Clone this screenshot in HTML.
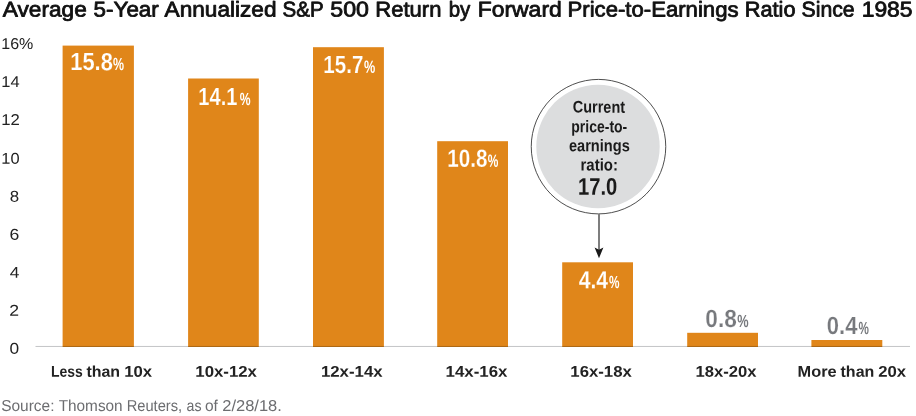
<!DOCTYPE html>
<html><head><meta charset="utf-8"><title>Chart</title>
<style>html,body{margin:0;padding:0;background:#fff;}svg{display:block;}text{font-family:"Liberation Sans",sans-serif;text-rendering:geometricPrecision;}</style></head>
<body>
<svg width="916" height="416" viewBox="0 0 916 416" style="will-change:transform">
<rect x="0" y="0" width="916" height="416" fill="#fff"/>
<g opacity="0.999">
<rect x="62.6" y="45.6" width="71.30" height="301.40" fill="#E0861A"/>
<rect x="188.1" y="78.5" width="70.70" height="268.50" fill="#E0861A"/>
<rect x="313" y="47.2" width="70.90" height="299.80" fill="#E0861A"/>
<rect x="437.2" y="141.2" width="70.80" height="205.80" fill="#E0861A"/>
<rect x="562.2" y="262.3" width="70.80" height="84.70" fill="#E0861A"/>
<rect x="687.2" y="332.8" width="70.80" height="14.20" fill="#E0861A"/>
<rect x="811.4" y="340.0" width="70.90" height="7.00" fill="#E0861A"/>
<rect x="35.5" y="345.95" width="874.5" height="1.05" fill="#c6c7c9" style="mix-blend-mode:multiply"/>
<circle cx="598.5" cy="146.65" r="67.25" fill="#fff" stroke="#3a3a3a" stroke-width="0.9"/>
<circle cx="598.0" cy="146.5" r="61.7" fill="#DCDDDE"/>
<line x1="599" y1="214" x2="599" y2="250" stroke="#7e7e7e" stroke-width="2"/>
<path d="M599 258.2 L594.6 247.4 L599 249.8 L603.4 247.4 Z" fill="#1a1a1a"/>
<text transform="translate(2.77 16.50) skewY(0.05) scale(1.0608 1)" font-size="21.37" font-weight="normal" fill="#111" stroke="#111" stroke-width="0.8" stroke-linejoin="round">Average</text>
<text transform="translate(93.58 16.50) skewY(0.05) scale(1.0494 1)" font-size="21.37" font-weight="normal" fill="#111" stroke="#111" stroke-width="0.8" stroke-linejoin="round">5-Year</text>
<text transform="translate(164.56 16.50) skewY(0.05) scale(1.0590 1)" font-size="21.37" font-weight="normal" fill="#111" stroke="#111" stroke-width="0.8" stroke-linejoin="round">Annualized</text>
<text transform="translate(282.62 16.50) skewY(0.05) scale(0.9614 1)" font-size="21.37" font-weight="normal" fill="#111" stroke="#111" stroke-width="0.8" stroke-linejoin="round">S&amp;P</text>
<text transform="translate(330.26 16.50) skewY(0.05) scale(1.0849 1)" font-size="21.37" font-weight="normal" fill="#111" stroke="#111" stroke-width="0.8" stroke-linejoin="round">500</text>
<text transform="translate(375.31 16.50) skewY(0.05) scale(1.0306 1)" font-size="21.37" font-weight="normal" fill="#111" stroke="#111" stroke-width="0.8" stroke-linejoin="round">Return</text>
<text transform="translate(448.64 16.50) skewY(0.05) scale(0.9591 1)" font-size="21.37" font-weight="normal" fill="#111" stroke="#111" stroke-width="0.8" stroke-linejoin="round">by</text>
<text transform="translate(477.66 16.50) skewY(0.05) scale(1.0737 1)" font-size="21.37" font-weight="normal" fill="#111" stroke="#111" stroke-width="0.8" stroke-linejoin="round">Forward</text>
<text transform="translate(567.50 16.50) skewY(0.05) scale(1.0367 1)" font-size="21.37" font-weight="normal" fill="#111" stroke="#111" stroke-width="0.8" stroke-linejoin="round">Price-to-Earnings</text>
<text transform="translate(744.73 16.50) skewY(0.05) scale(1.0197 1)" font-size="21.37" font-weight="normal" fill="#111" stroke="#111" stroke-width="0.8" stroke-linejoin="round">Ratio</text>
<text transform="translate(801.50 16.50) skewY(0.05) scale(0.9943 1)" font-size="21.37" font-weight="normal" fill="#111" stroke="#111" stroke-width="0.8" stroke-linejoin="round">Since</text>
<text transform="translate(861.66 16.50) skewY(0.05) scale(1.0710 1)" font-size="21.37" font-weight="normal" fill="#111" stroke="#111" stroke-width="0.8" stroke-linejoin="round">1985</text>
<text transform="translate(1.32 49.00) skewY(0.05) scale(1.0203 1)" font-size="15.70" font-weight="normal" fill="#222">16%</text>
<text transform="translate(1.29 87.00) skewY(0.05) scale(1.0476 1)" font-size="15.70" font-weight="normal" fill="#222">14</text>
<text transform="translate(1.27 125.00) skewY(0.05) scale(1.0645 1)" font-size="15.70" font-weight="normal" fill="#222">12</text>
<text transform="translate(1.29 163.80) skewY(0.05) scale(1.0476 1)" font-size="15.70" font-weight="normal" fill="#222">10</text>
<text transform="translate(9.69 201.80) skewY(0.05) scale(1.0759 1)" font-size="15.70" font-weight="normal" fill="#222">8</text>
<text transform="translate(9.51 239.80) skewY(0.05) scale(1.1241 1)" font-size="15.70" font-weight="normal" fill="#222">6</text>
<text transform="translate(9.87 277.80) skewY(0.05) scale(1.1062 1)" font-size="15.70" font-weight="normal" fill="#222">4</text>
<text transform="translate(9.31 315.80) skewY(0.05) scale(1.1241 1)" font-size="15.70" font-weight="normal" fill="#222">2</text>
<text transform="translate(9.60 353.75) skewY(0.05) scale(1.1032 1)" font-size="15.70" font-weight="normal" fill="#222">0</text>
<text transform="translate(50.90 376.80) skewY(0.05) scale(0.8978 1)" font-size="15.55" font-weight="bold" fill="#222">Less</text>
<text transform="translate(86.44 376.80) skewY(0.05) scale(1.0254 1)" font-size="15.55" font-weight="bold" fill="#222">than</text>
<text transform="translate(124.13 376.80) skewY(0.05) scale(1.0747 1)" font-size="15.55" font-weight="bold" fill="#222">10x</text>
<text transform="translate(195.32 376.80) skewY(0.05) scale(1.0804 1)" font-size="15.55" font-weight="bold" fill="#222">10x-12x</text>
<text transform="translate(320.92 376.80) skewY(0.05) scale(1.0804 1)" font-size="15.55" font-weight="bold" fill="#222">12x-14x</text>
<text transform="translate(445.62 376.80) skewY(0.05) scale(1.0839 1)" font-size="15.55" font-weight="bold" fill="#222">14x-16x</text>
<text transform="translate(570.32 376.80) skewY(0.05) scale(1.0768 1)" font-size="15.55" font-weight="bold" fill="#222">16x-18x</text>
<text transform="translate(695.53 376.80) skewY(0.05) scale(1.0679 1)" font-size="15.55" font-weight="bold" fill="#222">18x-20x</text>
<text transform="translate(797.55 376.80) skewY(0.05) scale(1.0517 1)" font-size="15.55" font-weight="bold" fill="#222">More</text>
<text transform="translate(840.54 376.80) skewY(0.05) scale(1.0286 1)" font-size="15.55" font-weight="bold" fill="#222">than</text>
<text transform="translate(878.26 376.80) skewY(0.05) scale(1.0733 1)" font-size="15.55" font-weight="bold" fill="#222">20x</text>
<text transform="translate(70.26 70.10) skewY(0.05) scale(0.8809 1)" font-size="24.85" font-weight="bold" fill="#fff" stroke="#E0861A" stroke-width="0.2" stroke-linejoin="round">15.8</text>
<text transform="translate(113.05 70.00) skewY(0.05) scale(0.7051 1)" font-size="17.59" font-weight="bold" fill="#fff">%</text>
<text transform="translate(198.28 105.00) skewY(0.05) scale(0.8087 1)" font-size="24.85" font-weight="bold" fill="#fff" stroke="#E0861A" stroke-width="0.2" stroke-linejoin="round">14.1</text>
<text transform="translate(239.85 104.90) skewY(0.05) scale(0.6915 1)" font-size="17.59" font-weight="bold" fill="#fff">%</text>
<text transform="translate(323.35 72.90) skewY(0.05) scale(0.8264 1)" font-size="24.85" font-weight="bold" fill="#fff" stroke="#E0861A" stroke-width="0.2" stroke-linejoin="round">15.7</text>
<text transform="translate(363.94 72.80) skewY(0.05) scale(0.7186 1)" font-size="17.59" font-weight="bold" fill="#fff">%</text>
<text transform="translate(447.35 166.80) skewY(0.05) scale(0.8306 1)" font-size="24.85" font-weight="bold" fill="#fff" stroke="#E0861A" stroke-width="0.2" stroke-linejoin="round">10.8</text>
<text transform="translate(487.76 166.70) skewY(0.05) scale(0.6780 1)" font-size="17.59" font-weight="bold" fill="#fff">%</text>
<text transform="translate(578.67 288.20) skewY(0.05) scale(0.8533 1)" font-size="24.85" font-weight="bold" fill="#fff" stroke="#E0861A" stroke-width="0.2" stroke-linejoin="round">4.4</text>
<text transform="translate(608.96 288.10) skewY(0.05) scale(0.6712 1)" font-size="17.59" font-weight="bold" fill="#fff">%</text>
<text transform="translate(705.29 327.10) skewY(0.05) scale(0.9130 1)" font-size="24.85" font-weight="bold" fill="#77797d" stroke="#fff" stroke-width="0.2" stroke-linejoin="round">0.8</text>
<text transform="translate(737.24 327.00) skewY(0.05) scale(0.7254 1)" font-size="17.59" font-weight="bold" fill="#77797d">%</text>
<text transform="translate(826.81 334.05) skewY(0.05) scale(0.8872 1)" font-size="24.85" font-weight="bold" fill="#77797d" stroke="#fff" stroke-width="0.2" stroke-linejoin="round">0.4</text>
<text transform="translate(858.47 333.95) skewY(0.05) scale(0.6644 1)" font-size="17.59" font-weight="bold" fill="#77797d">%</text>
<text transform="translate(572.86 112.60) skewY(0.05) scale(0.8567 1)" font-size="16.86" font-weight="bold" fill="#1a1a1a">Current</text>
<text transform="translate(571.27 132.30) skewY(0.05) scale(0.8304 1)" font-size="16.86" font-weight="bold" fill="#1a1a1a">price-to-</text>
<text transform="translate(568.95 151.20) skewY(0.05) scale(0.8655 1)" font-size="16.86" font-weight="bold" fill="#1a1a1a">earnings</text>
<text transform="translate(580.51 170.50) skewY(0.05) scale(0.8886 1)" font-size="16.86" font-weight="bold" fill="#1a1a1a">ratio:</text>
<text transform="translate(578.05 194.75) skewY(0.05) scale(0.8360 1)" font-size="24.13" font-weight="bold" fill="#1a1a1a">17.0</text>
<text transform="translate(1.16 410.90) skewY(0.05) scale(0.9818 1)" font-size="15.77" font-weight="normal" fill="#6c6d70">Source:</text>
<text transform="translate(58.66 410.90) skewY(0.05) scale(0.9736 1)" font-size="15.77" font-weight="normal" fill="#6c6d70">Thomson</text>
<text transform="translate(126.64 410.90) skewY(0.05) scale(0.9316 1)" font-size="15.77" font-weight="normal" fill="#6c6d70">Reuters,</text>
<text transform="translate(186.53 410.90) skewY(0.05) scale(0.8984 1)" font-size="15.77" font-weight="normal" fill="#6c6d70">as</text>
<text transform="translate(204.96 410.90) skewY(0.05) scale(0.9840 1)" font-size="15.77" font-weight="normal" fill="#6c6d70">of</text>
<text transform="translate(222.22 410.90) skewY(0.05) scale(1.0466 1)" font-size="15.77" font-weight="normal" fill="#6c6d70">2/28/18.</text>
</g>
</svg>
</body></html>
